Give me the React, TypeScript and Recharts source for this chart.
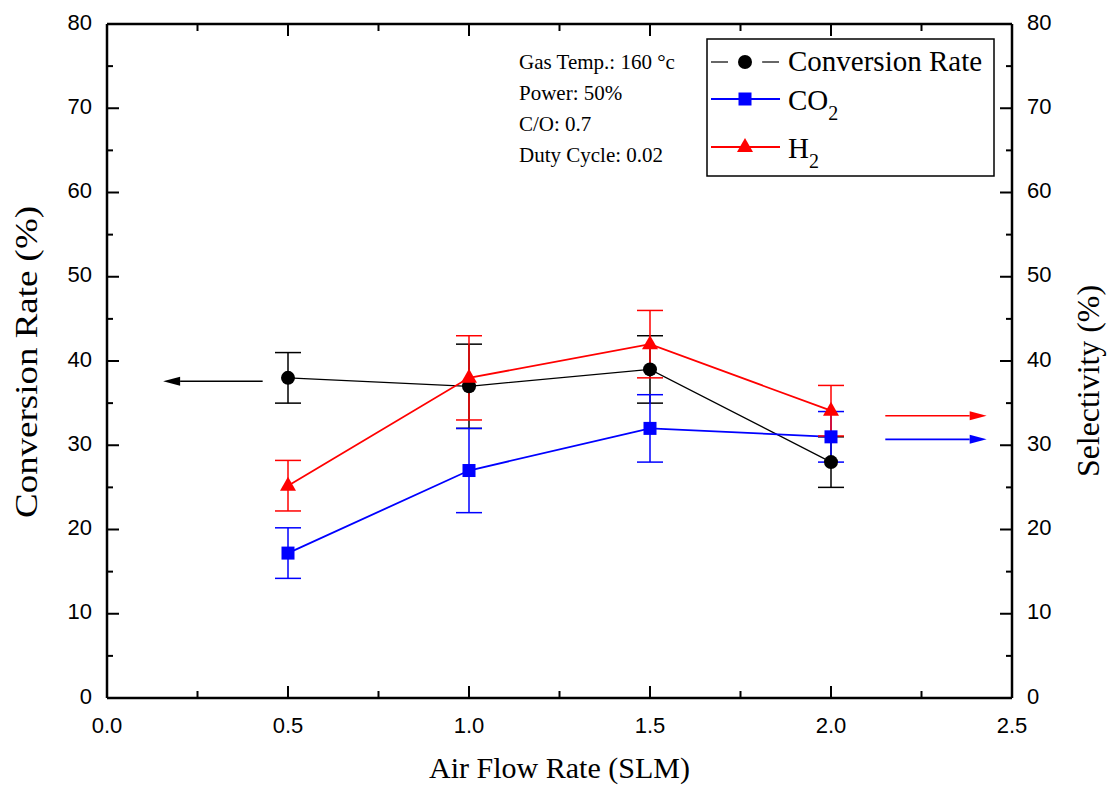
import React from 'react';
import { LineChart, Line, XAxis, YAxis, ErrorBar, ReferenceLine } from 'recharts';

const flowRates = [0.5, 1.0, 1.5, 2.0];
const conversion = [38, 37, 39, 28];
const conversionErr = [3, 5, 4, 3];
const co2 = [17.2, 27, 32, 31];
const co2Err = [3, 5, 4, 3];
const h2 = [25.2, 38, 42, 34.1];
const h2Err = [3, 5, 4, 3];

const xTicks = [0, 0.25, 0.5, 0.75, 1.0, 1.25, 1.5, 1.75, 2.0, 2.25, 2.5];
const yTicks = [0, 5, 10, 15, 20, 25, 30, 35, 40, 45, 50, 55, 60, 65, 70, 75, 80];
const notes = ['Gas Temp.: 160 °c', 'Power: 50%', 'C/O: 0.7', 'Duty Cycle: 0.02'];

const data = flowRates.map((x, i) => ({
  x,
  conversion: conversion[i],
  conversionErr: conversionErr[i],
  co2: co2[i],
  co2Err: co2Err[i],
  h2: h2[i],
  h2Err: h2Err[i],
}));

const SANS = "'Liberation Sans', Arial, sans-serif";
const SERIF = "'Liberation Serif', 'Times New Roman', serif";
const TICK_FS = 22;

const LeftTick = (p: any) => {
  const { x, y, payload } = p;
  const v = payload.value;
  const major = v % 10 === 0;
  return (
    <g>
      <line x1={x} y1={y} x2={x + (major ? 12 : 6)} y2={y} stroke="#000" strokeWidth={2} />
      {major && (
        <text x={x - 15} y={y - 2} textAnchor="end" dominantBaseline="central" fontFamily={SANS} fontSize={TICK_FS} fill="#000">
          {v}
        </text>
      )}
    </g>
  );
};

const RightTick = (p: any) => {
  const { x, y, payload } = p;
  const v = payload.value;
  const major = v % 10 === 0;
  return (
    <g>
      <line x1={x} y1={y} x2={x - (major ? 12 : 6)} y2={y} stroke="#000" strokeWidth={2} />
      {major && (
        <text x={x + 15} y={y - 2} textAnchor="start" dominantBaseline="central" fontFamily={SANS} fontSize={TICK_FS} fill="#000">
          {v}
        </text>
      )}
    </g>
  );
};

const BottomTick = (p: any) => {
  const { x, y, payload } = p;
  const v = payload.value;
  const major = Math.abs(v * 2 - Math.round(v * 2)) < 1e-6;
  return (
    <g>
      <line x1={x} y1={y} x2={x} y2={y - (major ? 12 : 7)} stroke="#000" strokeWidth={2} />
      {major && (
        <text x={x} y={y + 27} textAnchor="middle" dominantBaseline="central" fontFamily={SANS} fontSize={TICK_FS} fill="#000">
          {v.toFixed(1)}
        </text>
      )}
    </g>
  );
};

const TopTick = (p: any) => {
  const { x, y, payload } = p;
  const v = payload.value;
  const major = Math.abs(v * 2 - Math.round(v * 2)) < 1e-6;
  return <line x1={x} y1={y} x2={x} y2={y + (major ? 12 : 7)} stroke="#000" strokeWidth={2} />;
};

const CircleDot = (p: any) => (
  <circle key={`c${p.index}`} cx={p.cx} cy={p.cy} r={7} fill="#000" />
);
const SquareDot = (p: any) => (
  <rect key={`s${p.index}`} x={p.cx - 6.5} y={p.cy - 6.5} width={13} height={13} fill="#0000ff" />
);
const TriDot = (p: any) => (
  <polygon
    key={`t${p.index}`}
    points={`${p.cx},${p.cy - 9} ${p.cx - 8},${p.cy + 5} ${p.cx + 8},${p.cy + 5}`}
    fill="#ff0000"
  />
);

const makeArrow = (color: string) => (p: any) => {
  const { x1, y1, x2, y2 } = p;
  const dir = x2 > x1 ? 1 : -1;
  const hl = 17;
  return (
    <g>
      <line x1={x1} y1={y1} x2={x2 - dir * hl} y2={y2} stroke={color} strokeWidth={1.6} />
      <polygon points={`${x2},${y2} ${x2 - dir * hl},${y2 - 4.5} ${x2 - dir * hl},${y2 + 4.5}`} fill={color} />
    </g>
  );
};

const LeftTitle = (p: any) => {
  const vb = p.viewBox;
  const cx = vb.x + 26;
  const cy = vb.y + vb.height / 2 + 1;
  return (
    <text x={cx} y={cy} transform={`rotate(-90 ${cx} ${cy})`} textAnchor="middle" dominantBaseline="central" fontFamily={SERIF} fontSize={31} fill="#000" textLength={312} lengthAdjust="spacingAndGlyphs">
      Conversion Rate (%)
    </text>
  );
};

const RightTitle = (p: any) => {
  const vb = p.viewBox;
  const cx = vb.x + 76;
  const cy = vb.y + vb.height / 2 + 20;
  return (
    <text x={cx} y={cy} transform={`rotate(-90 ${cx} ${cy})`} textAnchor="middle" dominantBaseline="central" fontFamily={SERIF} fontSize={31} fill="#000" textLength={192} lengthAdjust="spacingAndGlyphs">
      Selectivity (%)
    </text>
  );
};

const BottomTitle = (p: any) => {
  const vb = p.viewBox;
  return (
    <text x={vb.x + vb.width / 2} y={vb.y + 80} textAnchor="middle" fontFamily={SERIF} fontSize={30} fill="#000">
      Air Flow Rate (SLM)
    </text>
  );
};

export default function App() {
  return (
    <div style={{ position: 'absolute', left: 0, top: 0, width: 1113, height: 798, background: '#fff' }}>
      <LineChart width={1113} height={798} data={data} margin={{ top: 23, right: 0, bottom: 0, left: 0 }}>
        <XAxis
          dataKey="x"
          type="number"
          domain={[0, 2.5]}
          ticks={xTicks}
          interval={0}
          height={100}
          tickSize={0}
          tickMargin={0}
          tick={BottomTick}
          axisLine={{ stroke: '#000', strokeWidth: 2.5 }}
          label={<BottomTitle />}
        />
        <XAxis
          xAxisId="top"
          orientation="top"
          dataKey="x"
          type="number"
          domain={[0, 2.5]}
          ticks={xTicks}
          interval={0}
          height={1}
          tickSize={0}
          tickMargin={0}
          tick={TopTick}
          axisLine={{ stroke: '#000', strokeWidth: 2.5 }}
        />
        <YAxis
          type="number"
          domain={[0, 80]}
          ticks={yTicks}
          interval={0}
          width={107}
          tickSize={0}
          tickMargin={0}
          tick={LeftTick}
          axisLine={{ stroke: '#000', strokeWidth: 2.5 }}
          label={<LeftTitle />}
        />
        <YAxis
          yAxisId="right"
          orientation="right"
          type="number"
          domain={[0, 80]}
          ticks={yTicks}
          interval={0}
          width={101}
          tickSize={0}
          tickMargin={0}
          tick={RightTick}
          axisLine={{ stroke: '#000', strokeWidth: 2.5 }}
          label={<RightTitle />}
        />
        <Line
          xAxisId="top"
          yAxisId="right"
          dataKey="conversion"
          stroke="none"
          strokeWidth={0}
          dot={false}
          activeDot={false}
          legendType="none"
          isAnimationActive={false}
        />
        <ReferenceLine segment={[{ x: 0.43, y: 37.6 }, { x: 0.155, y: 37.6 }]} shape={makeArrow('#000')} />
        <ReferenceLine segment={[{ x: 2.15, y: 33.5 }, { x: 2.43, y: 33.5 }]} shape={makeArrow('#ff0000')} />
        <ReferenceLine segment={[{ x: 2.15, y: 30.7 }, { x: 2.43, y: 30.7 }]} shape={makeArrow('#0000ff')} />
        <Line dataKey="conversion" stroke="#000" strokeWidth={1.2} dot={CircleDot} isAnimationActive={false}>
          <ErrorBar dataKey="conversionErr" width={13} stroke="#000" strokeWidth={1.5} direction="y" />
        </Line>
        <Line dataKey="co2" stroke="#0000ff" strokeWidth={1.8} dot={SquareDot} isAnimationActive={false}>
          <ErrorBar dataKey="co2Err" width={13} stroke="#0000ff" strokeWidth={1.5} direction="y" />
        </Line>
        <Line dataKey="h2" stroke="#ff0000" strokeWidth={1.8} dot={TriDot} isAnimationActive={false}>
          <ErrorBar dataKey="h2Err" width={13} stroke="#ff0000" strokeWidth={1.5} direction="y" />
        </Line>
      </LineChart>
      <svg width={1113} height={798} style={{ position: 'absolute', left: 0, top: 0, pointerEvents: 'none' }}>
        {notes.map((t, i) => (
          <text key={t} x={519} y={69 + i * 31} fontFamily={SERIF} fontSize={21} fill="#000">
            {t}
          </text>
        ))}
        <rect x={707} y={39} width={287} height={137} fill="#fff" stroke="#000" strokeWidth={1.5} />
        <line x1={711} y1={62} x2={728} y2={62} stroke="#000" strokeWidth={1.2} />
        <line x1={762} y1={62} x2={779} y2={62} stroke="#000" strokeWidth={1.2} />
        <circle cx={745} cy={62} r={7} fill="#000" />
        <text x={788} y={71} fontFamily={SERIF} fontSize={29} fill="#000">Conversion Rate</text>
        <line x1={711} y1={99} x2={780} y2={99} stroke="#0000ff" strokeWidth={1.8} />
        <rect x={738.5} y={92.5} width={13} height={13} fill="#0000ff" />
        <text x={788} y={110} fontFamily={SERIF} fontSize={29} fill="#000">
          CO<tspan dy={10} fontSize={20}>2</tspan>
        </text>
        <line x1={711} y1={147} x2={780} y2={147} stroke="#ff0000" strokeWidth={1.8} />
        <polygon points="745,138 737,152 753,152" fill="#ff0000" />
        <text x={788} y={158} fontFamily={SERIF} fontSize={29} fill="#000">
          H<tspan dy={10} fontSize={20}>2</tspan>
        </text>
      </svg>
    </div>
  );
}
